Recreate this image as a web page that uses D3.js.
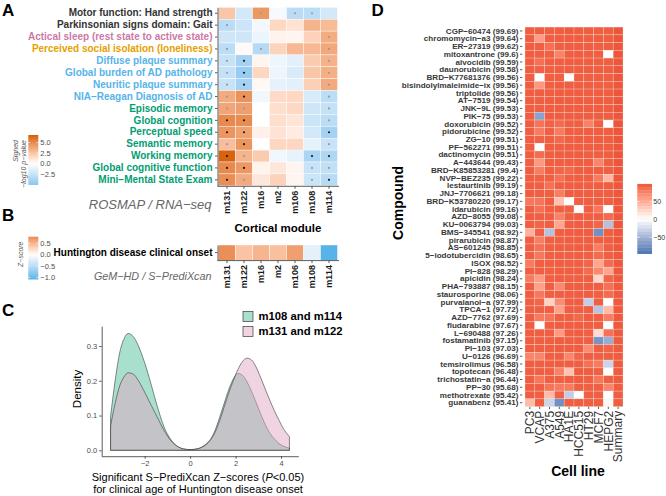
<!DOCTYPE html>
<html><head><meta charset="utf-8">
<script src="https://cdn.jsdelivr.net/npm/d3@7"></script>
<style>
body{margin:0;background:#fff}
svg{display:block}
text{font-family:"Liberation Sans",Arial,Helvetica,sans-serif}
</style>
</head><body>
<svg id="c" width="666" height="496"></svg>
<script>
// ---------------- DATA ----------------
const modules = ["m131","m122","m16","m2","m106","m108","m114"];
const traits = [
  "Motor function: Hand strength",
  "Parkinsonian signs domain: Gait",
  "Actical sleep (rest state to active state)",
  "Perceived social isolation (loneliness)",
  "Diffuse plaque summary",
  "Global burden of AD pathology",
  "Neuritic plaque summary",
  "NIA\u2212Reagan Diagnosis of AD",
  "Episodic memory",
  "Global cognition",
  "Perceptual speed",
  "Semantic memory",
  "Working memory",
  "Global cognitive function",
  "Mini\u2212Mental State Exam"
];
const traitColors = ["#333333","#333333","#CC79A7","#E69F00","#56B4E9","#56B4E9","#56B4E9","#56B4E9",
  "#009E73","#009E73","#009E73","#009E73","#009E73","#009E73","#009E73"];
// signed -log10 p-values (rows = traits, cols = modules)
const rosmapValues = [
  [ 2.4,-2.0, 4.4,-0.4,-3.1,-3.0,-2.0],
  [-3.1,-2.3,-0.6, 1.6, 1.2, 3.2, 2.9],
  [-2.2,-2.2,-0.9, 0.5, 0.4, 1.9, 3.5],
  [-3.0, 0.2,-3.3, 1.8, 3.0, 3.0, 3.7],
  [-2.6,-4.0, 0.4,-0.8,-1.3, 2.2, 3.3],
  [-2.7,-4.5, 1.7,-0.8,-1.8, 2.4, 3.4],
  [-2.5,-4.0, 0.3,-1.2,-1.3, 2.0, 3.6],
  [ 3.6, 4.6,-0.7, 1.5, 1.6,-1.8,-3.0],
  [ 3.8, 4.1, 0.0, 1.4, 1.6,-2.2,-2.7],
  [ 5.0, 4.9, 0.0, 1.4, 1.1,-2.4,-3.0],
  [ 4.5, 4.0, 0.6, 1.2, 0.8,-2.0,-4.0],
  [ 2.8, 4.5, 0.0, 1.7, 1.7,-1.2,-2.5],
  [ 6.6, 3.2, 2.2,-0.7,-1.1,-3.8,-3.6],
  [ 5.0, 4.4, 0.5, 1.0, 0.4,-2.5,-2.8],
  [ 4.8, 3.6, 1.0, 1.9, 0.4,-2.4,-3.2]
];
// significance marks: 0 none, 1 grey dot, 2 black dot
const rosmapSig = [
  [0,0,1,0,1,1,0],
  [1,0,0,0,0,0,0],
  [0,0,0,0,0,0,1],
  [1,0,1,0,0,0,1],
  [1,2,0,0,0,0,1],
  [1,2,0,0,0,0,1],
  [1,2,0,0,0,0,1],
  [1,2,0,0,0,0,1],
  [1,1,0,0,0,0,1],
  [2,2,0,0,0,0,1],
  [2,2,0,0,0,0,2],
  [1,2,0,0,0,0,1],
  [2,1,0,0,0,2,2],
  [2,2,0,0,0,1,1],
  [2,1,0,0,0,1,2]
];
const rosmapLegendTicks = [5.0, 2.5, 0.0, -2.5];
const rosmapLimits = [-5.1, 6.8];

const gemTrait = "Huntington disease clinical onset";
const gemValues = [0.76, 0.40, 0.50, 0.43, 0.65, -0.20, -1.09];
const gemLegendTicks = [0.5, 0.0, -0.5, -1.0];
const gemLimits = [-1.09, 0.79];

// Panel C: density curves
const densityX = [-3.5,-3.3,-3.1,-2.9,-2.73,-2.5,-2.3,-2.1,-1.9,-1.7,-1.5,-1.3,-1.1,-0.9,-0.7,-0.5,-0.3,0,
  0.3,0.5,0.7,0.9,1.1,1.3,1.5,1.7,1.9,2.1,2.3,2.5,2.7,2.9,3.1,3.3,3.5,3.7,3.9,4.1,4.37];
const densityGreen = [0.097,0.200,0.280,0.322,0.336,0.327,0.304,0.271,0.231,0.186,0.139,0.096,0.060,0.036,0.019,0.009,0.004,0.002,
  0.004,0.009,0.018,0.032,0.058,0.095,0.135,0.175,0.205,0.221,0.216,0.197,0.170,0.138,0.105,0.075,0.050,0.033,0.020,0.012,0.006];
const densityPink = [0.070,0.135,0.185,0.212,0.223,0.219,0.203,0.180,0.154,0.128,0.102,0.076,0.052,0.032,0.018,0.009,0.004,0.002,
  0.004,0.008,0.016,0.030,0.052,0.085,0.125,0.165,0.200,0.232,0.255,0.265,0.260,0.240,0.210,0.177,0.145,0.115,0.088,0.063,0.039];
const densityGroups = ["m108 and m114","m131 and m122"];
const densityXTicks = [-2,0,2,4];
const densityYTicks = [0.0,0.1,0.2,0.3];

// Panel D
const cellLines = ["PC3","VCAP","A375","A549","HA1E","HCC515","HT29","MCF7","HEPG2","Summary"];
const compounds = ["CGP\u221260474 (99.69)","chromomycin\u2212a3 (99.64)","ER\u221227319 (99.62)","mitoxantrone (99.6)",
  "alvocidib (99.59)","daunorubicin (99.58)","BRD\u2212K77681376 (99.56)","bisindolylmaleimide\u2212ix (99.56)",
  "triptolide (99.56)","AT\u22127519 (99.54)","JNK\u22129L (99.53)","PIK\u221275 (99.53)","doxorubicin (99.52)",
  "pidorubicine (99.52)","ZG\u221210 (99.51)","PF\u2212562271 (99.51)","dactinomycin (99.51)","A\u2212443644 (99.43)",
  "BRD\u2212K85853281 (99.4)","NVP\u2212BEZ235 (99.22)","lestaurtinib (99.19)","JNJ\u22127706621 (99.18)",
  "BRD\u2212K53780220 (99.17)","idarubicin (99.16)","AZD\u22128055 (99.08)","KU\u22120063794 (99.03)",
  "BMS\u2212345541 (98.92)","pirarubicin (98.87)","AS\u2212601245 (98.85)","5\u2212iodotubercidin (98.65)",
  "ISOX (98.52)","PI\u2212828 (98.29)","apicidin (98.24)","PHA\u2212793887 (98.15)","staurosporine (98.06)",
  "purvalanol\u2212a (97.99)","TPCA\u22121 (97.72)","AZD\u22127762 (97.69)","fludarabine (97.67)","L\u2212690488 (97.26)",
  "fostamatinib (97.15)","PI\u2212103 (97.03)","U\u22120126 (96.69)","temsirolimus (96.58)","topotecan (96.48)",
  "trichostatin\u2212a (96.44)","PP\u221230 (95.68)","methotrexate (95.42)","guanabenz (95.41)"];
const cmapScores = [
  [96,96,95,96,97,96,96,95,96,99.69],
  [96,60,95,96,96,96,95,96,95,99.64],
  [96,95,86,95,96,96,96,95,96,99.62],
  [96,95,95,76,96,96,95,95,0,99.6],
  [96,86,95,95,96,96,96,96,95,99.59],
  [96,94,95,96,96,96,96,96,96,99.58],
  [95,0,95,95,0,96,95,95,95,99.56],
  [96,64,95,96,96,96,96,95,95,99.56],
  [96,96,96,96,96,96,96,96,96,99.56],
  [96,95,96,96,96,96,96,96,96,99.54],
  [96,95,96,96,96,96,96,96,96,99.53],
  [96,-62,96,96,96,96,96,96,96,99.53],
  [96,84,94,88,95,95,76,95,0,99.52],
  [96,80,95,80,96,95,96,96,96,99.52],
  [96,94,95,90,95,96,96,96,96,99.51],
  [96,0,96,95,96,96,96,96,96,99.51],
  [96,88,95,96,96,96,96,95,96,99.51],
  [95,64,95,95,95,95,96,74,95,99.43],
  [96,78,95,92,90,95,96,96,95,99.4],
  [96,94,95,86,95,95,95,80,45,99.22],
  [96,95,86,95,96,96,95,96,96,99.19],
  [96,95,95,78,96,96,96,95,96,99.18],
  [82,84,95,38,0,95,96,96,95,99.17],
  [96,86,95,95,95,0,95,82,0,99.16],
  [96,95,95,76,95,96,95,95,88,99.08],
  [96,92,95,55,96,96,96,92,-40,99.03],
  [48,94,-40,95,96,96,96,-75,95,98.92],
  [96,78,95,95,96,96,96,95,96,98.87],
  [96,86,95,96,95,96,96,78,95,98.85],
  [95,82,95,95,95,95,95,88,95,98.65],
  [80,95,95,96,95,95,92,55,88,98.52],
  [96,95,95,96,96,96,88,72,55,98.29],
  [80,62,95,96,95,95,95,25,92,98.24],
  [96,58,95,72,96,96,96,95,86,98.15],
  [96,82,95,95,96,96,96,95,88,98.06],
  [96,92,28,70,96,96,-32,95,0,97.99],
  [96,95,95,58,96,96,95,-38,42,97.72],
  [96,80,84,95,95,90,96,95,78,97.69],
  [96,0,95,96,96,96,96,96,0,97.67],
  [96,95,95,62,96,96,95,22,86,97.26],
  [96,95,95,96,95,95,95,-72,-55,97.15],
  [96,95,95,96,96,96,70,95,92,97.03],
  [75,74,95,95,74,92,96,95,95,96.69],
  [96,95,95,96,96,96,86,80,-28,96.58],
  [96,95,95,76,38,96,96,95,0,96.48],
  [96,82,95,95,95,96,95,82,95,96.44],
  [96,95,84,80,80,95,95,95,74,95.68],
  [96,95,42,94,-32,0,95,95,0,95.42],
  [42,95,-28,-75,96,96,95,95,5,95.41]
];
const cmapLegendTicks = [50, 0, -50];
const cmapLimits = [-96, 100];

// ---------------- DRAW ----------------
const FONT = '"Liberation Sans", Arial, Helvetica, sans-serif';
const svg = d3.select("#c");
const AX = "#333333";

function panelLabel(t, x, y) {
  svg.append("text").attr("x", x).attr("y", y).text(t)
    .attr("font-size", 17).attr("font-weight", "bold").attr("fill", "#000");
}
function styleAxis(g) {
  g.selectAll(".domain").attr("stroke", AX).attr("stroke-width", 0.8);
  g.selectAll(".tick line").attr("stroke", AX).attr("stroke-width", 0.8);
  g.selectAll("text").attr("font-family", FONT);
}

// ---- Panel A ----
panelLabel("A", 2, 16);
const xA = d3.scaleBand().domain(modules).range([218.5, 337.5]);
const yA = d3.scaleBand().domain(traits).range([7.3, 185.8]);
const colA = d3.scaleLinear().domain([-6.8, 0, 6.8]).range(["#56B4E9", "#FFFFFF", "#D55E00"])
  .interpolate(d3.interpolateLab).clamp(true);

const cellsA = [];
traits.forEach((t, i) => modules.forEach((m, j) => cellsA.push({t, m, v: rosmapValues[i][j], s: rosmapSig[i][j]})));
svg.append("g").selectAll("rect").data(cellsA).join("rect")
  .attr("x", d => xA(d.m)).attr("y", d => yA(d.t))
  .attr("width", xA.bandwidth()).attr("height", yA.bandwidth())
  .attr("fill", d => colA(d.v)).attr("stroke", "#ffffff").attr("stroke-width", 0.4);
svg.append("g").selectAll("circle").data(cellsA.filter(d => d.s > 0)).join("circle")
  .attr("cx", d => xA(d.m) + xA.bandwidth() / 2).attr("cy", d => yA(d.t) + yA.bandwidth() / 2)
  .attr("r", 1.1).attr("fill", d => d.s === 2 ? "#1a1a1a" : "#9a9a9a");

const gAy = svg.append("g").attr("transform", "translate(217.5,0)")
  .call(d3.axisLeft(yA).tickSize(2.5).tickSizeOuter(0).tickPadding(2.5));
styleAxis(gAy);
gAy.selectAll("text").attr("font-size", 10).attr("font-weight", "bold")
  .attr("fill", (d, i) => traitColors[i]);

const gAx = svg.append("g").attr("transform", "translate(0,186.3)")
  .call(d3.axisBottom(xA).tickSize(2.5).tickSizeOuter(0));
styleAxis(gAx);
gAx.select(".domain").attr("d", "M217.5,0H339");
gAx.selectAll("text").attr("transform", "rotate(-90)").attr("text-anchor", "end")
  .attr("x", -4.5).attr("y", 0).attr("dy", "0.36em")
  .attr("font-size", 9).attr("font-weight", "bold").attr("fill", "#1a1a1a");

svg.append("text").attr("x", 278).attr("y", 232).attr("text-anchor", "middle")
  .attr("font-size", 11.5).attr("font-weight", "bold").text("Cortical module");
svg.append("text").attr("x", 211.5).attr("y", 209).attr("text-anchor", "end")
  .attr("font-size", 13).attr("font-style", "italic").attr("fill", "#666").text("ROSMAP / RNA\u2212seq");

// legend A
function gradLegend(id, scale, limits, ticks, x0, yTop, yBot, fmt) {
  const ly = d3.scaleLinear().domain([limits[1], limits[0]]).range([yTop, yBot]);
  const grad = svg.append("defs").append("linearGradient").attr("id", id)
    .attr("x1", 0).attr("y1", 0).attr("x2", 0).attr("y2", 1);
  d3.range(0, 1.0001, 0.05).forEach(t => {
    const v = limits[1] - t * (limits[1] - limits[0]);
    grad.append("stop").attr("offset", t).attr("stop-color", scale(v));
  });
  svg.append("rect").attr("x", x0).attr("y", yTop).attr("width", 10).attr("height", yBot - yTop)
    .attr("fill", `url(#${id})`);
  const g = svg.append("g");
  ticks.forEach(tk => {
    g.append("line").attr("x1", x0).attr("x2", x0 + 2).attr("y1", ly(tk)).attr("y2", ly(tk)).attr("stroke", "#fff").attr("stroke-width", 0.6);
    g.append("line").attr("x1", x0 + 8).attr("x2", x0 + 10).attr("y1", ly(tk)).attr("y2", ly(tk)).attr("stroke", "#fff").attr("stroke-width", 0.6);
    g.append("text").attr("x", x0 + 12).attr("y", ly(tk)).attr("dy", "0.35em")
      .attr("font-size", 7.5).attr("fill", "#4d4d4d").text(fmt(tk));
  });
}
const fmtA = v => (v < 0 ? "\u2212" : "") + Math.abs(v).toFixed(1);
gradLegend("gA", colA, rosmapLimits, rosmapLegendTicks, 28.3, 135, 185, fmtA);
const ltA = svg.append("text").attr("transform", "translate(18,140) rotate(-90)").attr("text-anchor", "end")
  .attr("font-size", 7).attr("font-style", "italic").attr("fill", "#555");
ltA.append("tspan").attr("x", 0).attr("dy", 0).text("Signed");
ltA.append("tspan").attr("x", 0).attr("dy", "1.15em").text("\u2212log10 p\u2212value");

// ---- Panel B ----
panelLabel("B", 2, 221);
const yB = d3.scaleBand().domain([gemTrait]).range([245, 260.2]);
const colB = d3.scaleLinear().domain([-1.09, 0, 1.09]).range(["#56B4E9", "#FFFFFF", "#D55E00"])
  .interpolate(d3.interpolateLab).clamp(true);
svg.append("g").selectAll("rect").data(modules).join("rect")
  .attr("x", d => xA(d)).attr("y", yB(gemTrait)).attr("width", xA.bandwidth()).attr("height", yB.bandwidth())
  .attr("fill", (d, i) => colB(gemValues[i])).attr("stroke", "#fff").attr("stroke-width", 0.4);
const gBy = svg.append("g").attr("transform", "translate(217.5,0)")
  .call(d3.axisLeft(yB).tickSize(2.5).tickSizeOuter(0).tickPadding(2.5));
styleAxis(gBy);
gBy.selectAll("text").attr("font-size", 10).attr("font-weight", "bold").attr("fill", "#000");
const gBx = svg.append("g").attr("transform", "translate(0,260.6)")
  .call(d3.axisBottom(xA).tickSize(2.5).tickSizeOuter(0));
styleAxis(gBx);
gBx.select(".domain").attr("d", "M217.5,0H339");
gBx.selectAll("text").attr("transform", "rotate(-90)").attr("text-anchor", "end")
  .attr("x", -4.5).attr("y", 0).attr("dy", "0.36em")
  .attr("font-size", 9).attr("font-weight", "bold").attr("fill", "#1a1a1a");
svg.append("text").attr("x", 211.5).attr("y", 279.5).attr("text-anchor", "end")
  .attr("font-size", 10.8).attr("font-style", "italic").attr("fill", "#666").text("GeM\u2212HD / S\u2212PrediXcan");
const fmtB = v => (v < 0 ? "\u2212" : "") + Math.abs(v).toFixed(1);
gradLegend("gB", colB, gemLimits, gemLegendTicks, 28.3, 236.7, 279.5, fmtB);
svg.append("text").attr("transform", "translate(22.5,241.5) rotate(-90)").attr("text-anchor", "end")
  .attr("font-size", 7).attr("font-style", "italic").attr("fill", "#555").text("Z\u2212score");

// ---- Panel C ----
panelLabel("C", 2, 316);
const xC = d3.scaleLinear().domain([-3.89, 4.76]).range([101.7, 298.3]);
const yC = d3.scaleLinear().domain([-0.017, 0.357]).range([456.2, 326.2]);
const greenFill = "rgb(76,190,150)", pinkFill = "rgb(226,165,195)";
const area = d3.area().x(d => xC(d[0])).y0(yC(0)).y1(d => yC(d[1])).curve(d3.curveMonotoneX);
const gPts = densityX.map((x, i) => [x, densityGreen[i]]);
const pPts = densityX.map((x, i) => [x, densityPink[i]]);
svg.append("path").attr("d", area(gPts)).attr("fill", greenFill).attr("fill-opacity", 0.48)
  .attr("stroke", "#3a3a3a").attr("stroke-width", 0.6);
svg.append("path").attr("d", area(pPts)).attr("fill", pinkFill).attr("fill-opacity", 0.48)
  .attr("stroke", "#3a3a3a").attr("stroke-width", 0.6);

const gCx = svg.append("g").attr("transform", "translate(0,456.2)")
  .call(d3.axisBottom(xC).tickValues(densityXTicks).tickSize(2.5).tickSizeOuter(0).tickPadding(2)
    .tickFormat(v => (v < 0 ? "\u2212" : "") + Math.abs(v)));
styleAxis(gCx);
gCx.selectAll("text").attr("font-size", 7.5).attr("fill", "#4d4d4d");
const gCy = svg.append("g").attr("transform", "translate(101.7,0)")
  .call(d3.axisLeft(yC).tickValues(densityYTicks).tickSize(2.5).tickSizeOuter(0).tickPadding(2)
    .tickFormat(d3.format(".1f")));
styleAxis(gCy);
gCy.selectAll("text").attr("font-size", 7.5).attr("fill", "#4d4d4d");

svg.append("text").attr("transform", "translate(80.5,389) rotate(-90)").attr("text-anchor", "middle")
  .attr("font-size", 11.5).attr("fill", "#000").text("Density");
const xt = svg.append("text").attr("x", 198).attr("y", 480.5).attr("text-anchor", "middle")
  .attr("font-size", 11).attr("fill", "#000");
xt.append("tspan").text("Significant S\u2212PrediXcan Z\u2212scores (");
xt.append("tspan").attr("font-style", "italic").text("P");
xt.append("tspan").text("<0.05)");
svg.append("text").attr("x", 198).attr("y", 493).attr("text-anchor", "middle")
  .attr("font-size", 11).attr("fill", "#000").text("for clinical age of Huntington disease onset");

// legend C
[[greenFill, densityGroups[0]], [pinkFill, densityGroups[1]]].forEach((d, i) => {
  const y = 311.5 + i * 15;
  svg.append("rect").attr("x", 243).attr("y", y).attr("width", 10).attr("height", 10)
    .attr("fill", d[0]).attr("fill-opacity", 0.48).attr("stroke", "#3a3a3a").attr("stroke-width", 0.7);
  svg.append("text").attr("x", 258.5).attr("y", y + 5).attr("dy", "0.35em")
    .attr("font-size", 11.3).attr("font-weight", "bold").text(d[1]);
});

// ---- Panel D ----
panelLabel("D", 371.5, 16);
const xD = d3.scaleBand().domain(cellLines).range([525, 623]);
const yD = d3.scaleBand().domain(compounds).range([27.1, 406.6]);
const colD = d3.scaleLinear().domain([-100, 0, 100]).range(["#3D6EAD", "#FFFFFF", "#EE553A"])
  .interpolate(d3.interpolateLab).clamp(true);
const cellsD = [];
compounds.forEach((c, i) => cellLines.forEach((l, j) => cellsD.push({c, l, v: cmapScores[i][j]})));
svg.append("g").selectAll("rect").data(cellsD).join("rect")
  .attr("x", d => xD(d.l)).attr("y", d => yD(d.c))
  .attr("width", xD.bandwidth()).attr("height", yD.bandwidth())
  .attr("fill", d => colD(d.v)).attr("stroke", "#f4f4f4").attr("stroke-opacity", 0.5).attr("stroke-width", 0.5);

const gDy = svg.append("g").attr("transform", "translate(522.3,0)")
  .call(d3.axisLeft(yD).tickSize(2.3).tickSizeOuter(0).tickPadding(1.5));
styleAxis(gDy);
gDy.select(".domain").remove();
gDy.selectAll("text").attr("font-size", 8.1).attr("font-weight", "bold").attr("fill", "#383838");
const gDx = svg.append("g").attr("transform", "translate(0,406.8)")
  .call(d3.axisBottom(xD).tickSize(2.3).tickSizeOuter(0));
styleAxis(gDx);
gDx.select(".domain").remove();
gDx.selectAll("text").attr("transform", "rotate(-90)").attr("text-anchor", "end")
  .attr("x", -4).attr("y", 0).attr("dy", "0.36em").attr("font-size", 12).attr("fill", "#333");

svg.append("text").attr("transform", "translate(402.5,203) rotate(-90)").attr("text-anchor", "middle")
  .attr("font-size", 14).attr("font-weight", "bold").text("Compound");
svg.append("text").attr("x", 578).attr("y", 475.5).attr("text-anchor", "middle")
  .attr("font-size", 14).attr("font-weight", "bold").text("Cell line");

// legend D (binned colour bar)
const lyD = d3.scaleLinear().domain([50, -50]).range([201.7, 237.3]);
const nb = 22;
const stepV = (cmapLimits[1] - cmapLimits[0]) / nb;
d3.range(nb).forEach(k => {
  const vTop = cmapLimits[1] - k * stepV, vBot = vTop - stepV;
  svg.append("rect").attr("x", 637.3).attr("y", lyD(vTop)).attr("width", 14.7)
    .attr("height", lyD(vBot) - lyD(vTop) + 0.3).attr("fill", colD((vTop + vBot) / 2));
});
cmapLegendTicks.forEach(tk => {
  svg.append("line").attr("x1", 637.3).attr("x2", 640).attr("y1", lyD(tk)).attr("y2", lyD(tk)).attr("stroke", "#fff").attr("stroke-width", 0.6);
  svg.append("line").attr("x1", 649.3).attr("x2", 652).attr("y1", lyD(tk)).attr("y2", lyD(tk)).attr("stroke", "#fff").attr("stroke-width", 0.6);
  svg.append("text").attr("x", 653.3).attr("y", lyD(tk)).attr("dy", "0.35em").attr("font-size", 7)
    .attr("fill", "#333").text((tk < 0 ? "\u2212" : "") + Math.abs(tk));
});
</script>
</body></html>
